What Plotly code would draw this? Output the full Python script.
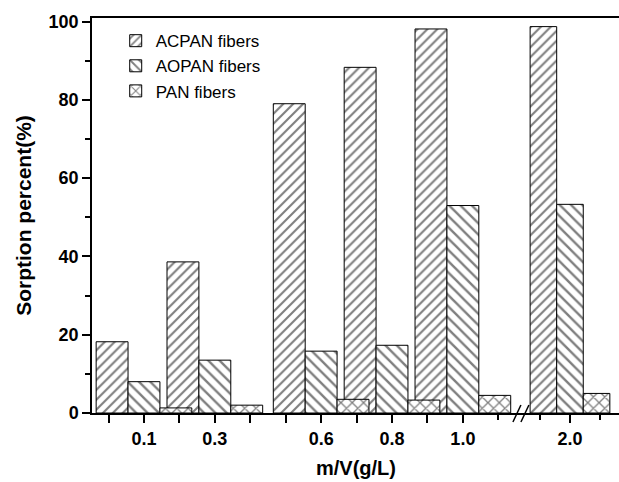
import plotly.graph_objects as go

# ---- data ----
categories = [0.1, 0.3, 0.6, 0.8, 1.0, 2.0]
acpan = [18.2, 38.6, 79.0, 88.3, 98.1, 98.7]
aopan = [8.0, 13.5, 15.8, 17.3, 53.0, 53.3]
pan = [1.3, 2.0, 3.5, 3.3, 4.5, 5.0]
series_names = ["ACPAN fibers", "AOPAN fibers", "PAN fibers"]
x_tickvals = [0.0, 0.1, 0.2, 0.3, 0.4, 0.5, 0.6, 0.7, 0.8, 0.9, 1.0]
x_ticktext = ["", "0.1", "", "0.3", "", "", "0.6", "", "0.8", "", "1.0"]
x2_tickvals = [2.0]
x2_ticktext = ["2.0"]
y_tickvals = [0, 20, 40, 60, 80, 100]

FONT = "Liberation Sans, Arial, sans-serif"
BW = 0.09
offsets = [-1.5 * BW, -0.5 * BW, 0.5 * BW]
patterns = ["/", "\\", "x"]
psizes = [7, 8, 8]
BREAK = 0.812

fig = go.Figure()
left_x = [c for c in categories if c < 1.5]
right_x = [c for c in categories if c >= 1.5]
for name, vals, off, shp, ps in zip(series_names, [acpan, aopan, pan], offsets, patterns, psizes):
    lv = vals[:len(left_x)]
    rv = vals[len(left_x):]
    marker = dict(color="white", line=dict(color="black", width=1),
                  pattern=dict(shape=shp, fgcolor="black", bgcolor="white", size=ps, solidity=0.3))
    fig.add_trace(go.Bar(x=left_x, y=lv, name=name, width=BW, offset=off, marker=marker,
                         xaxis="x", yaxis="y"))
    fig.add_trace(go.Bar(x=right_x, y=rv, name=name, width=BW, offset=off, marker=marker,
                         xaxis="x2", yaxis="y", showlegend=False))

tickfont = dict(family=FONT, size=18, color="black", weight="bold")
common_x = dict(showline=True, linecolor="black", linewidth=2, mirror=True, ticks="outside",
                ticklen=8, tickwidth=1.5, tickcolor="black", tickfont=tickfont, showgrid=False,
                zeroline=False, anchor="y")

fig.update_layout(
    width=619, height=482,
    margin=dict(l=92, r=0, t=18, b=69, autoexpand=False),
    plot_bgcolor="white", paper_bgcolor="white",
    barmode="overlay",
    showlegend=True,
    legend=dict(x=0.045, y=0.987, xanchor="left", yanchor="top", bgcolor="rgba(0,0,0,0)",
                font=dict(family=FONT, size=17, color="black"), itemwidth=30, tracegroupgap=0),
    xaxis=dict(domain=[0, BREAK], range=[-0.0467, 1.161], tickmode="array",
               tickvals=x_tickvals, ticktext=x_ticktext,
               minor=dict(tickmode="array", tickvals=[1.1], ticks="outside", ticklen=5,
                          tickwidth=1.5, tickcolor="black"),
               **common_x),
    xaxis2=dict(domain=[BREAK, 1], range=[1.8305, 2.166], tickmode="array",
                tickvals=x2_tickvals, ticktext=x2_ticktext,
                minor=dict(tickmode="array", tickvals=[1.9, 2.1], ticks="outside", ticklen=5,
                           tickwidth=1.5, tickcolor="black"),
                **common_x),
    yaxis=dict(range=[0, 100.9], tickmode="array", tickvals=y_tickvals, showline=True,
               linecolor="black", linewidth=1.5, ticks="outside", ticklen=8, tickwidth=1.5,
               tickcolor="black", tickfont=tickfont, showgrid=False, zeroline=False,
               minor=dict(dtick=10, ticks="outside", ticklen=5, tickwidth=1.5, tickcolor="black"),
               title=dict(text="Sorption percent(%)", standoff=11,
                          font=dict(family=FONT, size=21, color="black", weight="bold"))),
)

fig.add_annotation(text="m/V(g/L)", xref="paper", yref="paper", x=0.5, y=0,
                   xanchor="center", yanchor="top", yshift=-42, showarrow=False,
                   font=dict(family=FONT, size=20, color="black", weight="bold"))

# axis break marks
for dx in (-7, 1):
    fig.add_shape(type="line", xref="paper", yref="paper", xsizemode="pixel", ysizemode="pixel",
                  xanchor=BREAK, yanchor=0, x0=dx, x1=dx + 8, y0=-9, y1=8,
                  line=dict(color="black", width=1.5))

fig.write_html("out.html", config={"displayModeBar": False},
               post_script="document.body.style.margin='0';document.body.style.overflow='hidden';")
